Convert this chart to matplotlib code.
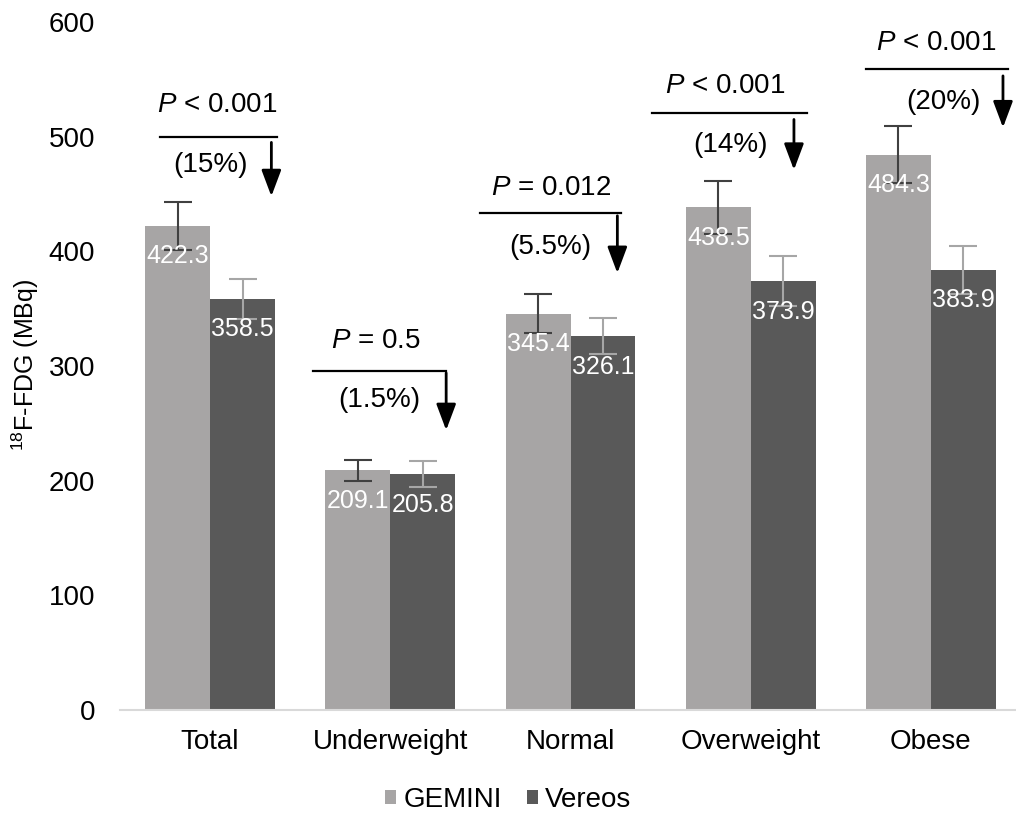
import numpy as np
import matplotlib
matplotlib.use('Agg')
import matplotlib.pyplot as plt

#==============================================================================
#DATA
#==============================================================================

categories = ['Total', 'Underweight', 'Normal', 'Overweight', 'Obese']
gemini = [422.3, 209.1, 345.4, 438.5, 484.3]
vereos = [358.5, 205.8, 326.1, 373.9, 383.9]
gemini_err = [21, 9, 17, 23, 25]
vereos_err = [17.5, 11, 16, 22, 21]

p_labels = ['< 0.001', '= 0.5', '= 0.012', '< 0.001', '< 0.001']
pct_labels = ['(15%)', '(1.5%)', '(5.5%)', '(14%)', '(20%)']

#annotation layout, offsets from group centre (x) and data units (y)
line_x0 = [-0.28, -0.43, -0.50, -0.55, -0.36]
line_x1 = [0.37, 0.31, 0.28, 0.31, 0.43]
line_y = [500, 296, 433, 521, 559]
p_x = [0.04, -0.08, -0.11, -0.14, 0.03]
p_y = [528, 322, 455, 544, 582]
pct_x = [0.0, -0.06, -0.11, -0.11, 0.07]
pct_y = [475, 270, 404, 493, 530]
arr_x = [0.34, 0.31, 0.26, 0.24, 0.40]
arr_y0 = [495, 294, 431, 515, 553]
arr_y1 = [448, 244, 381, 471, 508]

#==============================================================================
#SETTINGS
#==============================================================================

plt.rcParams['font.family'] = ['Liberation Sans', 'DejaVu Sans']
plt.rcParams['mathtext.fontset'] = 'custom'
plt.rcParams['mathtext.rm'] = 'Liberation Sans'
plt.rcParams['mathtext.it'] = 'Liberation Sans:italic'

c_gem = '#a7a5a5'
c_ver = '#595959'
fs = 20

#==============================================================================
#PLOTTING
#==============================================================================

f = plt.figure(figsize=(10.16, 8.22), dpi=100)
ax = f.add_axes([120/1016, 112/822, 901/1016, 688/822])

x = np.arange(len(categories))
w = 0.36

b1 = ax.bar(x - w/2, gemini, w, color=c_gem, label='GEMINI', zorder=2)
b2 = ax.bar(x + w/2, vereos, w, color=c_ver, label='Vereos', zorder=2)
ax.errorbar(x - w/2, gemini, yerr=gemini_err, fmt='none', ecolor='#404040',
            elinewidth=1.5, capsize=10, capthick=1.5, zorder=3)
ax.errorbar(x + w/2, vereos, yerr=vereos_err, fmt='none', ecolor='#a6a6a6',
            elinewidth=1.5, capsize=10, capthick=1.5, zorder=3)

#value labels
for bars in (b1, b2):
    for r in bars:
        ax.annotate('%.1f' % r.get_height(), (r.get_x() + r.get_width()/2, r.get_height()),
                    xytext=(0, -22), textcoords='offset points', ha='center', va='center',
                    color='white', fontsize=18, zorder=4)

#significance annotations
for i in range(len(categories)):
    ax.plot([i + line_x0[i], i + line_x1[i]], [line_y[i], line_y[i]], color='black',
            lw=1.6, clip_on=False)
    ax.text(i + p_x[i], p_y[i], r'$\it{P}$ ' + p_labels[i], ha='center', va='center',
            fontsize=fs, color='black')
    ax.text(i + pct_x[i], pct_y[i], pct_labels[i], ha='center', va='center',
            fontsize=fs, color='black')
    ax.annotate('', xy=(i + arr_x[i], arr_y1[i]), xytext=(i + arr_x[i], arr_y0[i]),
                arrowprops=dict(arrowstyle='-|>,head_width=0.3,head_length=0.8',
                                lw=2, color='black', mutation_scale=20,
                                shrinkA=0, shrinkB=0))

#figure adjustments
ax.set_xlim(-0.5, 4.5)
ax.set_ylim(0, 600)
ax.set_yticks(np.arange(0, 601, 100))
ax.set_xticks(x)
ax.set_xticklabels(categories)
ax.tick_params(axis='both', length=0, labelsize=fs, colors='black')
ax.tick_params(axis='y', pad=18)
ax.tick_params(axis='x', pad=14)
for s in ['left', 'right', 'top']:
    ax.spines[s].set_visible(False)
ax.spines['bottom'].set_color('#d9d9d9')
ax.spines['bottom'].set_linewidth(1.5)

#y label
f.text(25/1016, 1 - 365/822, r'$^{18}$F-FDG (MBq)', rotation=90, ha='center', va='center',
       fontsize=18, color='black')

#legend
handles, labels = ax.get_legend_handles_labels()
f.legend(handles, labels, loc='center', bbox_to_anchor=(0.5, 1 - 800/822), ncol=2,
         frameon=False, fontsize=fs, handlelength=0.4, handleheight=0.4,
         handletextpad=0.25, columnspacing=0.9)

f.savefig('out.png', dpi=100)
